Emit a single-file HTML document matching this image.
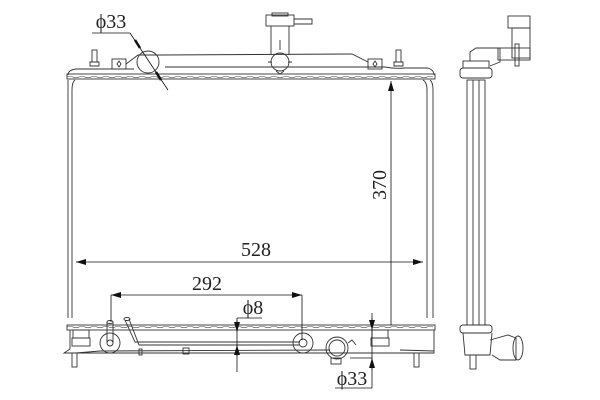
<!DOCTYPE html>
<html><head><meta charset="utf-8"><style>
html,body{margin:0;padding:0;background:#fff;width:600px;height:400px;overflow:hidden}
svg{display:block}
text{font-family:"Liberation Serif",serif;fill:#222}
</style></head><body>
<svg width="600" height="400" viewBox="0 0 600 400" xmlns="http://www.w3.org/2000/svg">
<defs>
<marker id="a" markerWidth="10" markerHeight="6" refX="10" refY="3" orient="auto-start-reverse" markerUnits="userSpaceOnUse"><path d="M0,0 L10,3 L0,6z" fill="#111"/></marker>
</defs>
<g fill="none" stroke="#333" stroke-width="0.9">
<path d="M68,75 Q68,70 76,69 L134,69 M165,67 L385,67 Q395,69 405,68 L428,68 Q434,70 434,75"/>
<rect x="67" y="74" width="368" height="5"/>
<path d="M67,77 q3,-1.5 6,0 t6,0 t6,0 t6,0 t6,0 t6,0 t6,0 t6,0 t6,0 t6,0 t6,0 t6,0 t6,0 t6,0 t6,0 t6,0 t6,0 t6,0 t6,0 t6,0 t6,0 t6,0 t6,0 t6,0 t6,0 t6,0 t6,0 t6,0 t6,0 t6,0 t6,0 t6,0 t6,0 t6,0 t6,0 t6,0 t6,0 t6,0 t6,0 t6,0 t6,0 t6,0 t6,0 t6,0 t6,0 t6,0 t6,0 t6,0 t6,0 t6,0 t6,0 t6,0 t6,0 t6,0 t6,0 t6,0 t6,0 t6,0 t6,0 t6,0 t6,0" stroke-width="0.6"/>
<rect x="92" y="50" width="5" height="12"/><path d="M90,62 L99,62 L99,66 L90,66z"/>
<rect x="396" y="50" width="5" height="12"/><path d="M394,62 L403,62 L403,66 L394,66z"/>
<rect x="112" y="59" width="14" height="10"/><path d="M119,61 l2,3 l-2,3 l-2,-3z"/>
<rect x="368" y="59" width="14" height="10"/><path d="M375,61 l2,3 l-2,3 l-2,-3z"/>
<path d="M126,64 L138,55 L160,55 L352,54 L368,62"/>
<circle cx="148" cy="62" r="11"/>
<rect x="266" y="15" width="28" height="11"/><path d="M294,19 L312,19 L312,24 L294,24"/><rect x="272" y="13" width="16" height="3"/>
<path d="M271,26 L271,55 M289,26 L289,55"/>
<circle cx="280" cy="62" r="9"/><path d="M268,62 L272,62 M288,62 L292,62 M280,40 L280,50 M276,71 L280,74 L284,71"/>
<path d="M68,80 L68,318 M75,80 Q72,82 72,90 L72,318 M423,80 Q427,82 427,90 L427,318 M430,80 Q433,82 433,90 L433,318"/>
<rect x="67" y="325" width="368" height="5"/>
<path d="M67,327 q3,-1.5 6,0 t6,0 t6,0 t6,0 t6,0 t6,0 t6,0 t6,0 t6,0 t6,0 t6,0 t6,0 t6,0 t6,0 t6,0 t6,0 t6,0 t6,0 t6,0 t6,0 t6,0 t6,0 t6,0 t6,0 t6,0 t6,0 t6,0 t6,0 t6,0 t6,0 t6,0 t6,0 t6,0 t6,0 t6,0 t6,0 t6,0 t6,0 t6,0 t6,0 t6,0 t6,0 t6,0 t6,0 t6,0 t6,0 t6,0 t6,0 t6,0 t6,0 t6,0 t6,0 t6,0 t6,0 t6,0 t6,0 t6,0 t6,0 t6,0 t6,0 t6,0" stroke-width="0.6"/>
<path d="M70,330 L70,349 L64,353 L434,353 L434,330 M76,353 L100,351 L330,350 M400,350 L434,351"/>
<rect x="72" y="338" width="18" height="8"/><rect x="73" y="330" width="16" height="8"/>
<rect x="371" y="338" width="18" height="8"/><rect x="372" y="330" width="16" height="8"/>
<rect x="72" y="353" width="5" height="14"/><rect x="414" y="353" width="5" height="14"/>
<circle cx="110" cy="343" r="10"/><circle cx="110" cy="343" r="3"/>
<path d="M107,343 L107,322 M113,343 L113,322"/><ellipse cx="110" cy="322" rx="3" ry="1.5"/>
<path d="M125,320 L135,342 L300,342 M129,319 L139,345 L300,345"/><ellipse cx="127" cy="319" rx="3" ry="1.5"/>
<circle cx="303" cy="343" r="10"/><circle cx="303" cy="343" r="4"/>
<rect x="139" y="349" width="3" height="6"/><rect x="183" y="348" width="6" height="6"/>
<circle cx="337" cy="348" r="11"/><circle cx="337" cy="348" r="8"/><rect x="331" y="358" width="10" height="6"/><path d="M348,343 L352,340 L356,345"/>
<rect x="467" y="80" width="18" height="245"/><path d="M473,80 L473,325 M479,80 L479,325"/>
<rect x="460" y="68" width="32" height="10" rx="3"/><rect x="463" y="61" width="26" height="7"/>
<path d="M470,61 L470,52 L476,48 L500,48 L500,62 L490,66"/>
<rect x="508" y="16" width="22" height="12"/><rect x="512" y="28" width="18" height="30"/><rect x="498" y="48" width="32" height="12"/><rect x="515" y="44" width="4" height="22"/>
<rect x="460" y="325" width="32" height="8" rx="3"/><path d="M463,333 L465,355 L490,355 L492,333 M490,340 L508,335 L516,338 L516,360 L500,360 L492,355"/>
<ellipse cx="518" cy="348" rx="5" ry="12"/><rect x="470" y="355" width="6" height="14"/>
<g stroke="#111" stroke-width="0.8">
<line x1="76" y1="262" x2="423" y2="262" marker-start="url(#a)" marker-end="url(#a)"/>
<line x1="391" y1="325" x2="391" y2="81" marker-end="url(#a)"/>
<line x1="111" y1="295" x2="302" y2="295" marker-start="url(#a)" marker-end="url(#a)"/>
<line x1="111" y1="295" x2="111" y2="322"/><line x1="302" y1="295" x2="302" y2="340"/>
<line x1="237" y1="318" x2="237" y2="372"/><line x1="237" y1="318" x2="262" y2="318"/>
<line x1="237" y1="320" x2="237" y2="332" marker-end="url(#a)"/><line x1="237" y1="356" x2="237" y2="345" marker-end="url(#a)"/>
<line x1="372" y1="313" x2="372" y2="388"/><line x1="335" y1="388" x2="372" y2="388"/>
<line x1="372" y1="318" x2="372" y2="330" marker-end="url(#a)"/><line x1="372" y1="370" x2="372" y2="358" marker-end="url(#a)"/>
<line x1="350" y1="358" x2="372" y2="358"/>
<line x1="92" y1="33" x2="130" y2="33"/><line x1="130" y1="33" x2="168" y2="90"/>
<line x1="135" y1="40" x2="140" y2="48" stroke-width="2.5"/><line x1="156" y1="72" x2="161" y2="80" stroke-width="2.5"/>
</g>
</g>
<text x="256" y="256" font-size="20" text-anchor="middle">528</text>
<text x="207" y="290" font-size="20" text-anchor="middle">292</text>
<text transform="translate(386,185) rotate(-90)" font-size="20" text-anchor="middle">370</text>
<text x="111" y="28" font-size="20" text-anchor="middle">ϕ33</text>
<text x="253" y="314" font-size="20" text-anchor="middle">ϕ8</text>
<text x="352" y="385" font-size="20" text-anchor="middle">ϕ33</text>
</svg>
</body></html>
